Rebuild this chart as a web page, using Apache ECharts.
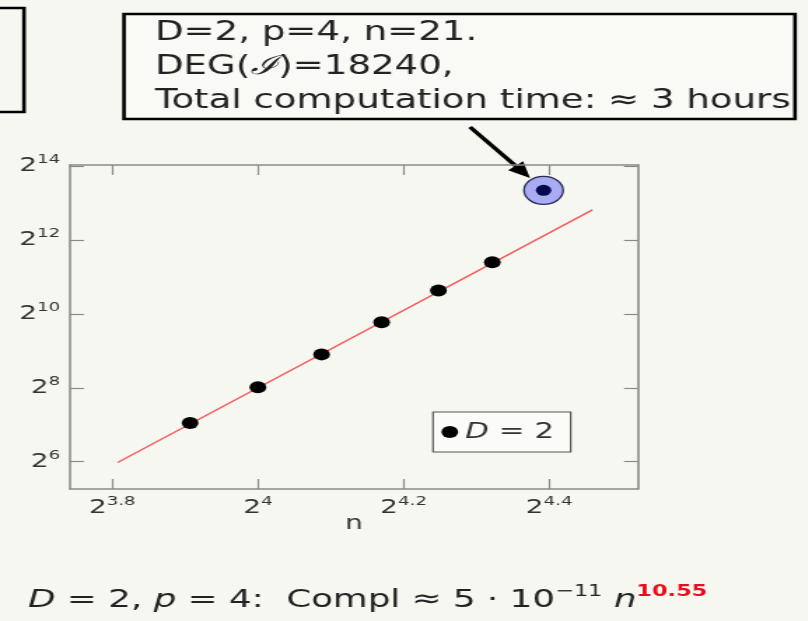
<!DOCTYPE html>
<html>
<head>
<meta charset="utf-8">
<script src="https://cdn.jsdelivr.net/npm/echarts@6/dist/echarts.min.js"></script>
<style>
  html, body { margin: 0; padding: 0; background: #f7f7f2; overflow: hidden; }
  /* the slide is drawn narrow and widened horizontally */
  #chart { width: 577px; height: 621px; transform: scaleX(1.4); transform-origin: 0 0; }
</style>
</head>
<body>
<div id="chart"></div>
<script>
// Horizontal widening of the whole slide (matches the CSS transform)
const SX = 1.4;
const X = v => v / SX;

// Measured runs for D = 2, p = 4: n and computation time
const nValues = [15, 16, 17, 18, 19, 20];
const timeValues = [132, 259, 479, 874, 1587, 2702];

// The n = 21 run, highlighted
const highlightN = [21];
const highlightTime = [10400];

// Fitted power law Compl ~ 5e-11 n^10.55, endpoints of the drawn segment
const fitN = [14, 22];
const fitTime = [63, 7200];

// Tick exponents (base 2)
const xTickExps = [3.8, 4, 4.2, 4.4];
const yTickExps = [6, 8, 10, 12, 14];

const FONT = 'DejaVu Sans';
const INK = '#333333';
const FRAME = '#8a8a8a';

const toLog = (ns, ts) => ns.map((n, i) => [Math.log2(n), Math.log2(ts[i])]);

const powLabel = v => '{b|2}{s|' + String(+Number(v).toFixed(1)) + '}';
const powRich = {
  b: { fontFamily: FONT, fontSize: 20, color: INK, lineHeight: 26 },
  s: { fontFamily: FONT, fontSize: 13, color: INK, verticalAlign: 'top', lineHeight: 14 }
};

const xRange = { min: 3.742, max: 4.522 };
const yRange = { min: 5.26, max: 14.03 };

function axisCommon(ticks) {
  return {
    type: 'value',
    axisLine: { show: true, lineStyle: { color: FRAME, width: 1.6 } },
    axisTick: { show: true, inside: true, length: 10, customValues: ticks,
                lineStyle: { color: FRAME, width: 1.2 } },
    splitLine: { show: false }
  };
}

// Arrow from the annotation box to the highlighted point
const arrowFrom = [X(470), 127];
const arrowTo = [X(530), 178];
const arrowGeom = (() => {
  const dx = arrowTo[0] - arrowFrom[0], dy = arrowTo[1] - arrowFrom[1];
  const len = Math.hypot(dx, dy), ux = dx / len, uy = dy / len;
  const hl = 16, hw = 7;
  const bx = arrowTo[0] - ux * hl, by = arrowTo[1] - uy * hl;
  return {
    shaft: [arrowFrom, [bx + ux * 2, by + uy * 2]],
    head: [arrowTo, [bx - uy * hw, by + ux * hw], [bx + uy * hw, by - ux * hw]]
  };
})();

const chart = echarts.init(document.getElementById('chart'), null, { renderer: 'canvas' });

chart.setOption({
  backgroundColor: '#f7f7f2',
  animation: false,
  grid: { left: X(70), top: 165, width: X(568), height: 324, containLabel: false },
  xAxis: [
    Object.assign(axisCommon(xTickExps), xRange, {
      position: 'bottom',
      name: 'n', nameLocation: 'middle', nameGap: 25, nameMoveOverlap: false,
      nameTextStyle: { fontFamily: FONT, fontSize: 20, color: INK },
      axisLabel: { show: true, customValues: xTickExps, margin: 6,
                   formatter: powLabel, rich: powRich }
    }),
    Object.assign(axisCommon(xTickExps), xRange, {
      position: 'top', axisLabel: { show: false }
    })
  ],
  yAxis: [
    Object.assign(axisCommon(yTickExps), yRange, {
      position: 'left',
      axisLabel: { show: true, customValues: yTickExps, margin: 7,
                   formatter: powLabel, rich: powRich }
    }),
    Object.assign(axisCommon(yTickExps), yRange, {
      position: 'right', axisLabel: { show: false }
    })
  ],
  legend: {
    data: ['D = 2'],
    left: X(433), top: 412,
    orient: 'horizontal',
    icon: 'circle', itemWidth: 12, itemHeight: 12, itemGap: 4,
    padding: [9, 12, 9, 6],
    borderColor: '#555', borderWidth: 1.2, borderRadius: 0,
    backgroundColor: '#fbfbf8',
    formatter: () => '{i|D} = 2',
    textStyle: {
      fontFamily: FONT, fontSize: 22, color: INK,
      rich: { i: { fontFamily: FONT, fontSize: 22, fontStyle: 'italic', color: INK } }
    }
  },
  series: [
    {
      name: 'fit', type: 'line', silent: true,
      data: toLog(fitN, fitTime), symbol: 'none',
      lineStyle: { color: '#ee5c5c', width: 1.4 }, z: 2
    },
    {
      name: 'D = 2', type: 'scatter',
      data: toLog(nValues, timeValues),
      symbol: 'circle', symbolSize: 12,
      itemStyle: { color: '#000', opacity: 1 }, z: 3
    },
    {
      name: 'n = 21', type: 'scatter', silent: true,
      data: toLog(highlightN, highlightTime),
      symbol: 'circle', symbolSize: 28,
      itemStyle: { color: '#a9acf3', borderColor: '#2a2a55', borderWidth: 1.3, opacity: 1 }, z: 3
    },
    {
      name: 'n = 21 core', type: 'scatter', silent: true,
      data: toLog(highlightN, highlightTime),
      symbol: 'circle', symbolSize: 11,
      itemStyle: { color: '#08084c', opacity: 1 }, z: 4
    }
  ],
  graphic: [
    // partial box at the left edge
    { type: 'rect', shape: { x: -10, y: 8, width: X(24) + 10, height: 104 },
      style: { fill: 'transparent', stroke: '#000', lineWidth: 2.6 } },
    // annotation box
    { type: 'rect', shape: { x: X(124), y: 14, width: X(671), height: 105 },
      style: { fill: '#f9f9f5', stroke: '#000', lineWidth: 2.6 } },
    { type: 'text', x: X(155), y: 33,
      style: { text: 'D=2, p=4, n=21.', fontFamily: FONT, fontSize: 26.5, fill: '#222',
               verticalAlign: 'middle' } },
    { type: 'text', x: X(155), y: 67,
      style: { text: 'DEG({c|ℐ})=18240,', fontFamily: FONT, fontSize: 26.5, fill: '#222',
               verticalAlign: 'middle',
               rich: { c: { fontFamily: 'DejaVu Serif', fontStyle: 'italic', fontSize: 26.5, fill: '#222' } } } },
    { type: 'text', x: X(155), y: 101,
      style: { text: 'Total computation time: ≈ 3 hours', fontFamily: FONT, fontSize: 26.5,
               fill: '#222', verticalAlign: 'middle' } },
    // arrow
    { type: 'polyline', shape: { points: arrowGeom.shaft },
      style: { stroke: '#000', lineWidth: 3.4 } },
    { type: 'polygon', shape: { points: arrowGeom.head }, style: { fill: '#000' } },
    // formula under the chart
    { type: 'text', x: X(28), y: 600,
      style: {
        text: '{i|D} = 2, {i|p} = 4:  Compl ≈ 5 · 10{s|−11} {i|n}{r|10.55}',
        fontFamily: FONT, fontSize: 25.5, fill: '#222', verticalAlign: 'middle',
        rich: {
          i: { fontFamily: FONT, fontSize: 25.5, fontStyle: 'italic', fill: '#222', lineHeight: 32 },
          s: { fontFamily: FONT, fontSize: 16, fill: '#222', verticalAlign: 'top', lineHeight: 17 },
          r: { fontFamily: FONT, fontSize: 16, fontWeight: 'bold', fill: '#e0101c', verticalAlign: 'top', lineHeight: 17 }
        }
      } }
  ]
});
</script>
</body>
</html>
